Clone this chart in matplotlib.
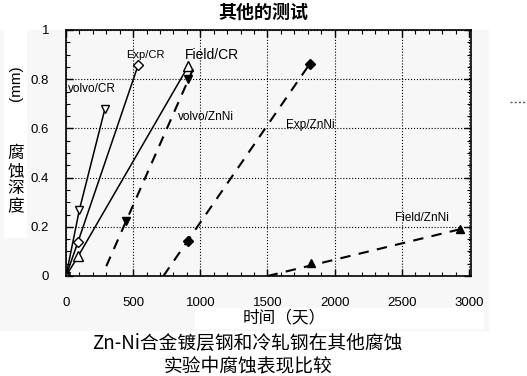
import numpy as np
import matplotlib
matplotlib.use("Agg")
import matplotlib.pyplot as plt
from matplotlib.patches import Rectangle
from matplotlib.ticker import MultipleLocator

cjk = ['Noto Sans CJK SC', 'DejaVu Sans']
latin = 'Liberation Sans'

# solid series (CR)
volvo_cr_x = [0, 100, 290]
volvo_cr_y = [0, 0.27, 0.68]
exp_cr_x = [0, 90, 537]
exp_cr_y = [0, 0.14, 0.857]
field_cr_x = [0, 90, 910]
field_cr_y = [0, 0.08, 0.853]

# dashed series (ZnNi): markers and line ends
volvo_znni_x = [448, 910]
volvo_znni_y = [0.224, 0.80]
volvo_znni_line_x = [300, 945]
volvo_znni_line_y = [0.04, 0.84]
exp_znni_x = [910, 1813]
exp_znni_y = [0.143, 0.861]
exp_znni_line_x = [725, 1813]
exp_znni_line_y = [0.0, 0.861]
field_znni_x = [1821, 2933]
field_znni_y = [0.053, 0.19]
field_znni_line_x = [1500, 2933]
field_znni_line_y = [0.0, 0.19]

labels = ["volvo/CR", "Exp/CR", "Field/CR", "volvo/ZnNi", "Exp/ZnNi", "Field/ZnNi"]
label_x = [15, 590, 1085, 1040, 1820, 2650]
label_y = [0.76, 0.90, 0.90, 0.645, 0.615, 0.237]
label_size = [8.5, 8, 10, 8.5, 8.5, 8.5]
label_ha = ["left", "center", "center", "center", "center", "center"]

fig = plt.figure(figsize=(5.27, 3.76), dpi=100)
W, H = 527, 376

def box(x0, y0, x1, y1, color):
    fig.patches.append(Rectangle((x0 / W, 1 - y1 / H), (x1 - x0) / W, (y1 - y0) / H,
                                 transform=fig.transFigure, color=color, zorder=-10))

# scanned background
box(0, 30, 488, 330, '#f7f7f7')
box(4, 30, 26, 237, 'white')
box(195, 308, 483, 328, 'white')

ax = fig.add_axes([66 / W, 1 - 276 / H, (471 - 66) / W, (276 - 30) / H])
ax.set_facecolor('#f7f7f7')

lw = 1.1
ax.plot(volvo_cr_x, volvo_cr_y, color='k', lw=lw, marker='v', mfc='white', mec='k', ms=6, mew=1)
ax.plot(exp_cr_x, exp_cr_y, color='k', lw=lw, marker='D', mfc='white', mec='k', ms=5.5, mew=1)
ax.plot(field_cr_x, field_cr_y, color='k', lw=lw, marker='^', mfc='white', mec='k', ms=6.5, mew=1)

dash = (0, (5, 4))
ax.plot(volvo_znni_line_x, volvo_znni_line_y, color='k', lw=1.5, ls=dash)
ax.plot(volvo_znni_x, volvo_znni_y, ls='none', marker='v', color='k', ms=6)
ax.plot(exp_znni_line_x, exp_znni_line_y, color='k', lw=1.5, ls=dash)
ax.plot(exp_znni_x, exp_znni_y, ls='none', marker='D', color='k', ms=5)
ax.plot(field_znni_line_x, field_znni_line_y, color='k', lw=1.5, ls=dash)
ax.plot(field_znni_x, field_znni_y, ls='none', marker='^', color='k', ms=6)

for t, x, y, s, ha in zip(labels, label_x, label_y, label_size, label_ha):
    ax.text(x, y, t, fontsize=s, ha=ha, va='center', family=latin)

ax.set_xlim(0, 3015)
ax.set_ylim(0, 1)
ax.xaxis.set_major_locator(MultipleLocator(500))
ax.xaxis.set_minor_locator(MultipleLocator(100))
ax.yaxis.set_major_locator(MultipleLocator(0.2))
ax.yaxis.set_minor_locator(MultipleLocator(0.05))
ax.set_xticks([0, 500, 1000, 1500, 2000, 2500, 3000])
ax.set_xticklabels(['0', '500', '1000', '1500', '2000', '2500', '3000'])
ax.set_yticks([0, 0.2, 0.4, 0.6, 0.8, 1])
ax.set_yticklabels(['0', '0.2', '0.4', '0.6', '0.8', '1'])
ax.tick_params(which='both', direction='in', top=True, right=True, color='k')
ax.tick_params(which='major', length=5, width=1)
ax.tick_params(which='minor', length=3, width=0.8)
ax.tick_params(axis='x', pad=15, labelsize=9.5)
ax.tick_params(axis='y', pad=12, labelsize=9.5)
for lab in ax.get_xticklabels() + ax.get_yticklabels():
    lab.set_family(latin)
ax.grid(True, which='major', color='k', ls=':', lw=0.8)
for sp in ax.spines.values():
    sp.set_linewidth(1.2)

fig.text(263 / W, 1 - 12 / H, "其他的测试", ha='center', va='center', fontsize=13,
         fontweight='bold', family=cjk)
fig.text(16 / W, 1 - 83 / H, "(mm)", rotation=90, ha='center', va='center', fontsize=11, family=latin)
fig.text(16 / W, 1 - 180 / H, "腐\n蚀\n深\n度", ha='center', va='center', fontsize=12,
         linespacing=1.05, family=cjk)
fig.text(284 / W, 1 - 318 / H, "时间（天）", ha='center', va='center', fontsize=12, family=cjk)
fig.text(247 / W, 1 - 343 / H, "Zn-Ni合金镀层钢和冷轧钢在其他腐蚀", ha='center', va='center',
         fontsize=13.5, fontweight='medium', family=cjk)
fig.text(248 / W, 1 - 366 / H, "实验中腐蚀表现比较", ha='center', va='center', fontsize=13.5, family=cjk)
fig.lines.append(plt.Line2D([510 / W, 526 / W], [1 - 102 / H, 1 - 102 / H], transform=fig.transFigure,
                            color='#555555', lw=1, ls=(0, (1.5, 1.5))))

fig.savefig("out.png", dpi=100)
